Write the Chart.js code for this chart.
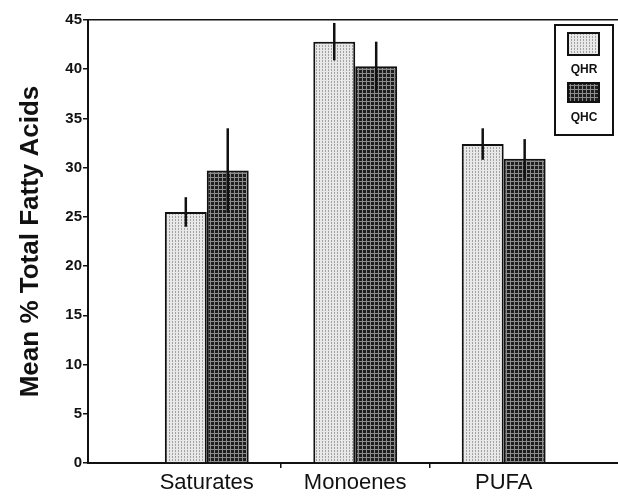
<!DOCTYPE html>
<html>
<head>
<meta charset="utf-8">
<script src="https://cdn.jsdelivr.net/npm/chart.js@4/dist/chart.umd.min.js"></script>
<style>
    html, body { margin: 0; padding: 0; background: #fff; }
    #wrap { width: 618px; height: 499px; }
</style>
</head>
<body>
<div id="wrap"><canvas id="chart-fatty"></canvas></div>
<script>
var categories = ['Saturates', 'Monoenes', 'PUFA'];
var seriesNames = ['QHR', 'QHC'];
var qhrMean = [25.5, 42.8, 32.4];
var qhrErr = [1.5, 1.9, 1.6];
var qhcMean = [29.7, 40.3, 30.9];
var qhcErr = [4.3, 2.5, 2.0];
var yTicks = [0, 5, 10, 15, 20, 25, 30, 35, 40, 45];

// hatch fills like the printed figure
function makePattern(size, base, dot, draw) {
    var c = document.createElement('canvas');
    c.width = size;
    c.height = size;
    var g = c.getContext('2d');
    g.fillStyle = base;
    g.fillRect(0, 0, size, size);
    g.fillStyle = dot;
    draw(g);
    return g.createPattern(c, 'repeat');
}

var lightFill = makePattern(3, '#e8e8e8', '#a2a2a2', function(g) {
    g.fillRect(1, 0, 1, 2);
});
var darkFill = makePattern(4, '#1e1e1e', '#8c8c8c', function(g) {
    g.fillRect(0, 1, 4, 1);
    g.fillRect(2, 0, 1, 4);
});

var errorBars = {
    id: 'errorBars',
    afterDatasetsDraw: function(chart) {
        var ctx = chart.ctx;
        var y = chart.scales.y;
        ctx.save();
        ctx.strokeStyle = '#111';
        ctx.lineWidth = 2.5;
        chart.data.datasets.forEach(function(ds, i) {
            var meta = chart.getDatasetMeta(i);
            meta.data.forEach(function(bar, j) {
                var v = ds.data[j].y;
                var e = ds.errors[j];
                ctx.beginPath();
                ctx.moveTo(bar.x, y.getPixelForValue(v + e));
                ctx.lineTo(bar.x, y.getPixelForValue(v - e));
                ctx.stroke();
            });
        });
        ctx.restore();
    }
};

var boxLegend = {
    id: 'boxLegend',
    afterDraw: function(chart) {
        var ctx = chart.ctx;
        var a = chart.chartArea;
        var left = a.right - 63, top = a.top + 5;
        ctx.save();
        ctx.strokeStyle = '#111';
        ctx.lineWidth = 2;
        ctx.strokeRect(left, top, 58, 110);
        ctx.font = 'bold 12px "Liberation Sans", Arial, sans-serif';
        ctx.textAlign = 'center';
        ctx.textBaseline = 'middle';
        ctx.fillStyle = '#111';
        var rows = [{ sy: top + 8, sh: 22, ty: top + 45 }, { sy: top + 58, sh: 19, ty: top + 93 }];
        chart.data.datasets.forEach(function(ds, i) {
            var r = rows[i];
            ctx.fillStyle = ds.backgroundColor;
            ctx.fillRect(left + 13, r.sy, 31, r.sh);
            ctx.strokeRect(left + 13, r.sy, 31, r.sh);
            ctx.fillStyle = '#111';
            ctx.fillText(ds.label, left + 29, r.ty);
        });
        ctx.restore();
    }
};

function points(values) {
    return values.map(function(v, i) { return { x: i + 1, y: v }; });
}

var chart = new Chart(document.getElementById('chart-fatty'), {
    type: 'bar',
    data: {
        datasets: [{
            label: seriesNames[0],
            data: points(qhrMean),
            errors: qhrErr,
            backgroundColor: lightFill,
            borderColor: '#111',
            borderWidth: 2
        }, {
            label: seriesNames[1],
            data: points(qhcMean),
            errors: qhcErr,
            backgroundColor: darkFill,
            borderColor: '#111',
            borderWidth: 2
        }]
    },
    options: {
        responsive: true,
        maintainAspectRatio: false,
        animation: false,
        // ruler spacing is half a category because of the in-between ticks
        categoryPercentage: 1.13,
        barPercentage: 1,
        layout: { padding: { top: 20, right: 0, left: 0, bottom: 0 } },
        plugins: {
            legend: { display: false },
            tooltip: { enabled: false }
        },
        scales: {
            x: {
                type: 'linear',
                offset: false,
                min: 0.2,
                max: 3.77,
                afterBuildTicks: function(s) {
                    s.ticks = [1, 1.5, 2, 2.5, 3].map(function(v) { return { value: v }; });
                },
                afterFit: function(s) { s.height = 36; },
                border: { display: true, color: '#111', width: 2 },
                grid: {
                    offset: false,
                    drawOnChartArea: false,
                    tickLength: 5,
                    tickColor: function(c) {
                        return c.tick && c.tick.value % 1 !== 0 ? '#111' : 'rgba(0,0,0,0)';
                    },
                    lineWidth: 1.5
                },
                ticks: {
                    autoSkip: false,
                    maxRotation: 0,
                    padding: 2,
                    color: '#111',
                    font: { family: '"Liberation Sans", Arial, sans-serif', size: 22 },
                    callback: function(v) {
                        return Number.isInteger(v) ? categories[v - 1] : '';
                    }
                }
            },
            y: {
                min: 0,
                max: 45,
                afterBuildTicks: function(s) {
                    s.ticks = yTicks.map(function(v) { return { value: v }; });
                },
                afterFit: function(s) { s.width = 88; },
                border: { display: true, color: '#111', width: 2 },
                grid: {
                    color: function(c) {
                        return c.tick && c.tick.value === 45 ? '#111' : 'rgba(0,0,0,0)';
                    },
                    tickColor: '#111',
                    tickLength: 5,
                    lineWidth: 1.5
                },
                ticks: {
                    padding: 1,
                    color: '#111',
                    font: { family: '"Liberation Sans", Arial, sans-serif', size: 15, weight: 'bold' }
                },
                title: {
                    display: true,
                    text: 'Mean % Total Fatty Acids',
                    color: '#111',
                    padding: { top: 15, bottom: 0 },
                    font: { family: '"Liberation Sans", Arial, sans-serif', size: 26, weight: 'bold' }
                }
            }
        }
    },
    plugins: [errorBars, boxLegend]
});
</script>
</body>
</html>
